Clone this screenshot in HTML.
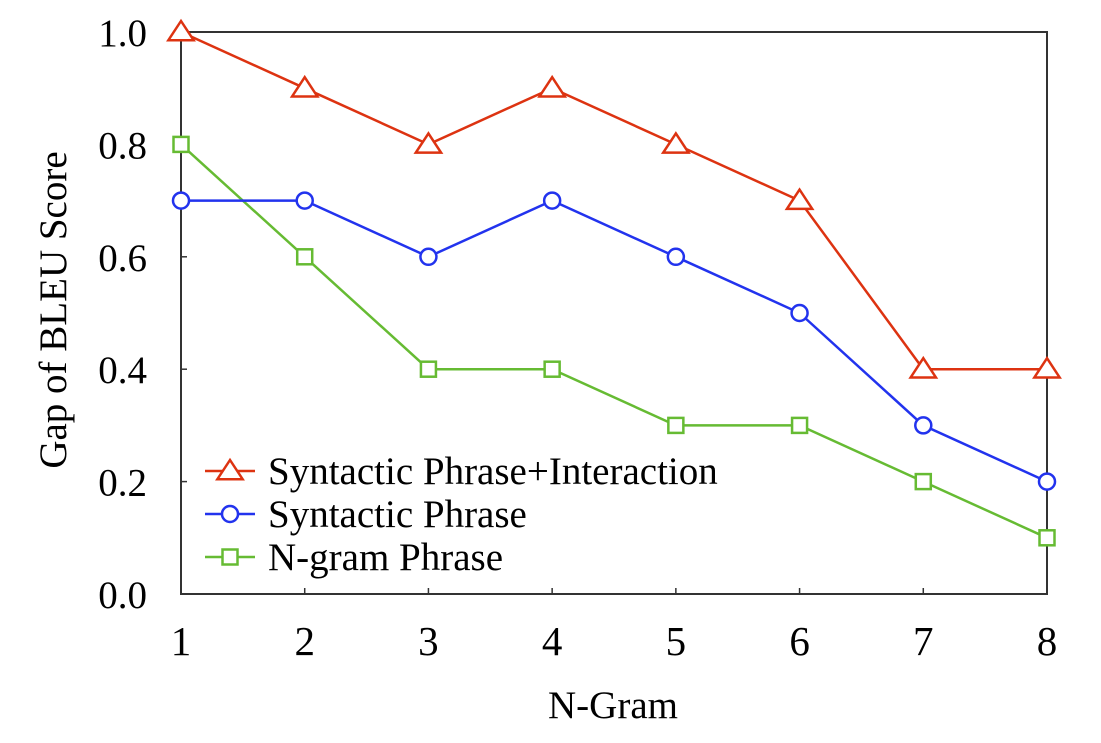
<!DOCTYPE html>
<html><head><meta charset="utf-8"><style>
body{margin:0;background:#fff;}
svg text{font-family:"Liberation Serif",serif;fill:#000;}
</style></head><body>
<svg id="chart" width="1101" height="738" viewBox="0 0 1101 738" xmlns="http://www.w3.org/2000/svg"></svg>
<script>
const categories=[1,2,3,4,5,6,7,8];
const yTicks=[0.0,0.2,0.4,0.6,0.8,1.0];
const yTickLabels=["0.0","0.2","0.4","0.6","0.8","1.0"];
const interactionValues=[1.0,0.9,0.8,0.9,0.8,0.7,0.4,0.4];
const syntacticValues=[0.7,0.7,0.6,0.7,0.6,0.5,0.3,0.2];
const ngramValues=[0.8,0.6,0.4,0.4,0.3,0.3,0.2,0.1];
const seriesNames=["Syntactic Phrase+Interaction","Syntactic Phrase","N-gram Phrase"];

const NS="http://www.w3.org/2000/svg";
const svg=document.getElementById('chart');
const L=181,R=1047,T=32,B=594;
const xS=v=>L+(v-1)/(8-1)*(R-L);
const yS=v=>B-v/1.0*(B-T);
function mk(tag,attrs,parent){const e=document.createElementNS(NS,tag);for(const k in attrs)e.setAttribute(k,attrs[k]);(parent||svg).appendChild(e);return e;}

const frame=mk('rect',{x:L,y:T,width:R-L,height:B-T,fill:'none',stroke:'#333','stroke-width':2});



categories.forEach(c=>{
  const t=mk('line',{x1:xS(c),x2:xS(c),y1:B,y2:B-6,stroke:'#333','stroke-width':1.5});
  
  
  const lb=mk('text',{x:xS(c),y:655,'text-anchor':'middle','font-size':41});
  lb.textContent=c;
  
  
});
yTicks.forEach((v,i)=>{
  const t=mk('line',{x1:L,x2:L+6,y1:yS(v),y2:yS(v),stroke:'#333','stroke-width':1.5});
  
  
  const lb=mk('text',{x:L-34,y:yS(v)+14,'text-anchor':'end','font-size':39});
  lb.textContent=yTickLabels[i];
  
  
});
const xt=mk('text',{x:613,y:718,'text-anchor':'middle','font-size':39});
xt.textContent='N-Gram';


const yt=mk('text',{x:0,y:0,'text-anchor':'middle','font-size':39,transform:`translate(66,310) rotate(-90)`});
yt.textContent='Gap of BLEU Score';



function marker(kind,x,y,color,g){
  let e;
  if(kind==='tri'){const s=11;e=mk('polygon',{points:`${x},${y-s} ${x-s*1.15},${y+s*0.75} ${x+s*1.15},${y+s*0.75}`,fill:'#fff',stroke:color,'stroke-width':2.5},g);}
  else if(kind==='circ'){e=mk('circle',{cx:x,cy:y,r:8,fill:'#fff',stroke:color,'stroke-width':2.5},g);}
  else {e=mk('rect',{x:x-7.5,y:y-7.5,width:15,height:15,fill:'#fff',stroke:color,'stroke-width':2.5},g);}
  return e;
}
const series=[
  {vals:interactionValues,color:'#dd3311',kind:'tri',name:'series-syntactic-interaction'},
  {vals:syntacticValues,color:'#2233ee',kind:'circ',name:'series-syntactic'},
  {vals:ngramValues,color:'#66bb33',kind:'sq',name:'series-ngram'}
];
series.slice().reverse().forEach(s=>{
  const g=mk('g',{});
  
  
  const pl=mk('polyline',{points:s.vals.map((v,i)=>xS(categories[i])+','+yS(v)).join(' '),fill:'none',stroke:s.color,'stroke-width':2.5},g);
  
  
  s.vals.forEach((v,i)=>{
    const m=marker(s.kind,xS(categories[i]),yS(v),s.color,g);
    
    
  });
});
series.forEach((s,i)=>{
  const y=471+i*43;
  const g=mk('g',{});
  
  
  mk('line',{x1:205,x2:255,y1:y,y2:y,stroke:s.color,'stroke-width':2.5},g);
  marker(s.kind,230,y,s.color,g);
  const t=mk('text',{x:268,y:y+13,'font-size':39},g);
  t.textContent=seriesNames[i];
});
</script>
</body></html>
